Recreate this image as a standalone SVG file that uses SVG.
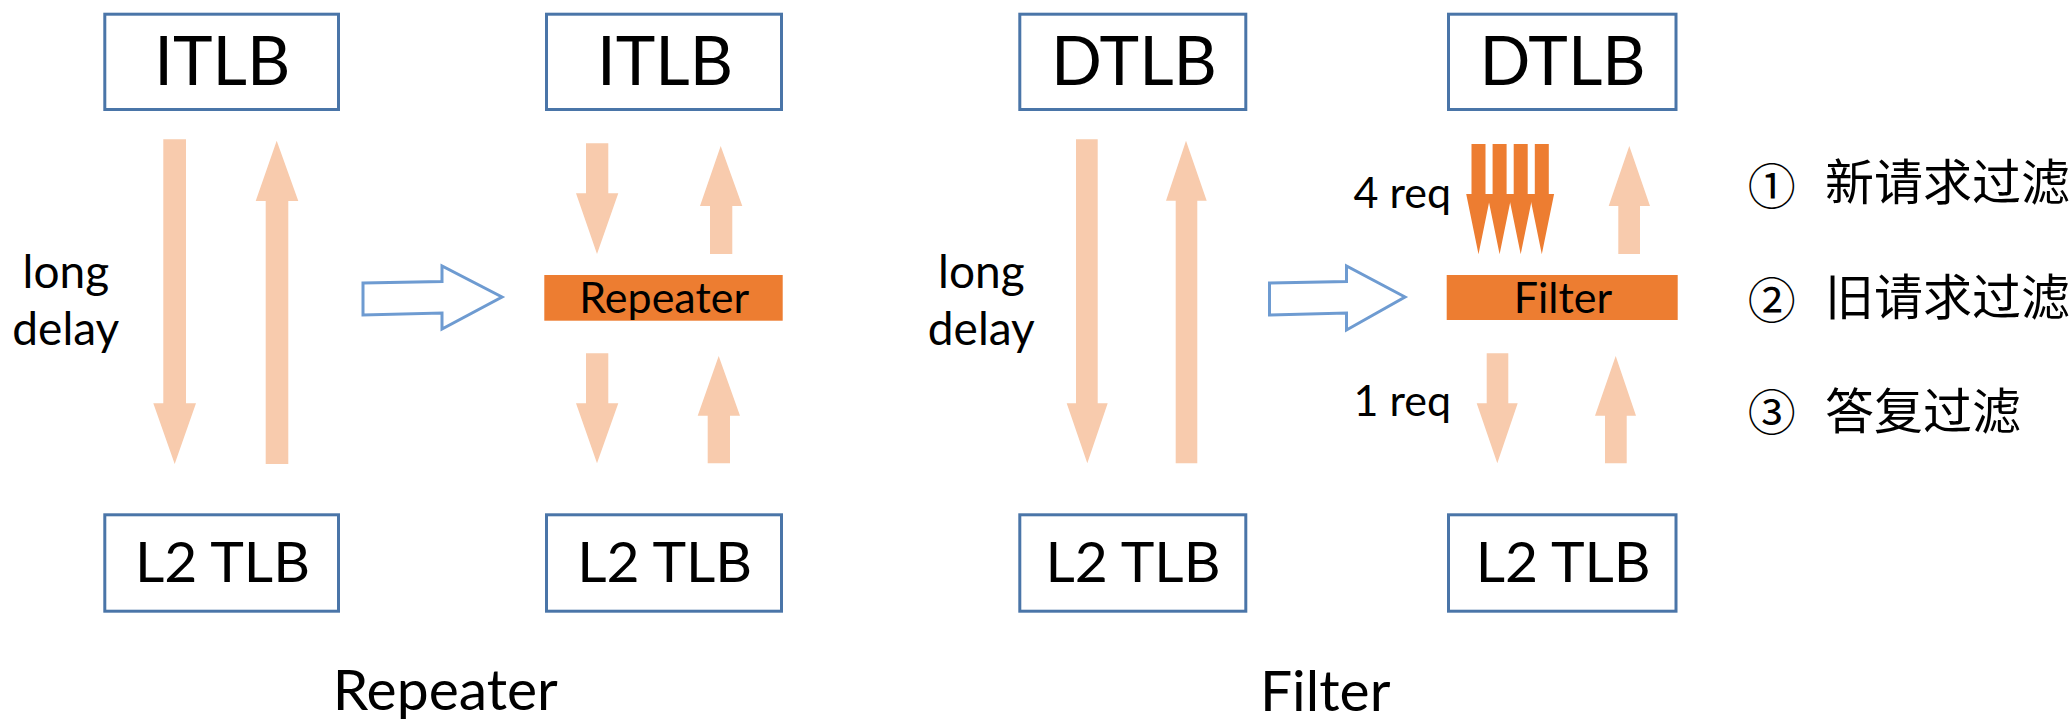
<svg xmlns="http://www.w3.org/2000/svg" width="2071" height="719" viewBox="0 0 2071 719">
<style>
  .box { fill: #ffffff; stroke: #4A75A8; stroke-width: 3; }
  .bar { fill: #ED7D31; }
  .lt { fill: #F8CBAD; }
  .dk { fill: #ED7D31; }
  .hollow { fill: #ffffff; stroke: #6E9BD1; stroke-width: 3; stroke-linejoin: miter; }
  .t { font-family: Lato, "Open Sans", sans-serif; fill: #000000; }
  .big { font-size: 67px; text-anchor: middle; }
  .mid { font-size: 57px; text-anchor: middle; }
  .cap { font-size: 57px; text-anchor: middle; }
  .sm { font-size: 43px; }
  .lbl { font-size: 46px; text-anchor: middle; }
  .cjk { font-family: "Noto Sans CJK SC", sans-serif; fill: #000000; }
  .num { font-size: 48px; text-anchor: middle; }
  .zh { font-size: 49px; }
</style>
<rect width="2071" height="719" fill="#ffffff"/>

<g id="connectors">
  <!-- Repeater section: long arrows -->
  <polygon class="lt" points="163.3,139.3 186,139.3 186,403.3 196,403.3 174.7,464 153.3,403.3 163.3,403.3"/>
  <polygon class="lt" points="276.7,140.7 298.3,201 288.3,201 288.3,464 265.7,464 265.7,201 255.7,201"/>
  <!-- Repeater right column -->
  <polygon class="lt" points="586,143.3 608.3,143.3 608.3,193.3 618.3,193.3 597,254 576,193.3 586,193.3"/>
  <polygon class="lt" points="720.7,146 742.3,206 732.3,206 732.3,254 710,254 710,206 700,206"/>
  <polygon class="lt" points="586,353.3 608.3,353.3 608.3,403.3 618.3,403.3 597,463.3 576,403.3 586,403.3"/>
  <polygon class="lt" points="718.7,356 740,415.7 730,415.7 730,463.3 707.7,463.3 707.7,415.7 697.7,415.7"/>
  <!-- Filter left column -->
  <polygon class="lt" points="1076,139.3 1097.7,139.3 1097.7,403.3 1107.7,403.3 1087.3,463.3 1066.7,403.3 1076,403.3"/>
  <polygon class="lt" points="1186,140.7 1206.7,200.7 1197.3,200.7 1197.3,463.3 1175.7,463.3 1175.7,200.7 1166,200.7"/>
  <!-- Filter right column: 4 requests -->
  <polygon class="dk" points="1471.5,144 1485.5,144 1485.5,194 1490.8,194 1478.5,254.3 1466.2,194 1471.5,194"/>
  <polygon class="dk" points="1492.6,144 1506.6,144 1506.6,194 1511.9,194 1499.6,254.3 1487.3,194 1492.6,194"/>
  <polygon class="dk" points="1513.7,144 1527.7,144 1527.7,194 1533,194 1520.7,254.3 1508.4,194 1513.7,194"/>
  <polygon class="dk" points="1534.8,144 1548.8,144 1548.8,194 1554.1,194 1541.8,254.3 1529.5,194 1534.8,194"/>
  <polygon class="lt" points="1629.3,146 1650,206 1640,206 1640,254 1618.3,254 1618.3,206 1608.7,206"/>
  <polygon class="lt" points="1486.7,353.3 1508.3,353.3 1508.3,403.3 1517.7,403.3 1497.3,463.3 1476.7,403.3 1486.7,403.3"/>
  <polygon class="lt" points="1615.7,356 1636,415.7 1626.7,415.7 1626.7,463.3 1605,463.3 1605,415.7 1595,415.7"/>
  <!-- transition arrows -->
  <polygon class="hollow" points="363,283 442,281.5 442,266 502,297 442,329 442,313 363,315"/>
  <polygon class="hollow" points="1269.5,283 1346.5,281.5 1346.5,266 1405,297 1346.5,330 1346.5,313 1269.5,315"/>
  <!-- connector labels -->
  <text class="t lbl" x="65.8" y="288">long</text>
  <text class="t lbl" x="65.8" y="344.5">delay</text>
  <text class="t lbl" x="981.3" y="288">long</text>
  <text class="t lbl" x="981.3" y="344.5">delay</text>
  <text class="t sm" x="1451" y="208.3" text-anchor="end">4 req</text>
  <text class="t sm" x="1451" y="416" text-anchor="end">1 req</text>
</g>

<g id="itlb-1">
  <rect class="box" x="104.8" y="14.2" width="233.7" height="95.3"/>
  <text class="t big" x="222.3" y="84.5">ITLB</text>
</g>
<g id="l2tlb-1">
  <rect class="box" x="104.8" y="514.8" width="233.7" height="96.4"/>
  <text class="t mid" x="222.5" y="582">L2 TLB</text>
</g>
<g id="itlb-2">
  <rect class="box" x="546.5" y="14.2" width="235" height="95.3"/>
  <text class="t big" x="665" y="84.5">ITLB</text>
</g>
<g id="repeater">
  <rect class="bar" x="544.3" y="275" width="238.4" height="45.7"/>
  <text class="t sm" x="664.2" y="312.7" text-anchor="middle">Repeater</text>
</g>
<g id="l2tlb-2">
  <rect class="box" x="546.5" y="514.8" width="235" height="96.4"/>
  <text class="t mid" x="664.7" y="582">L2 TLB</text>
</g>
<g id="dtlb-1">
  <rect class="box" x="1019.8" y="14.2" width="226" height="95.3"/>
  <text class="t big" x="1133.9" y="84.5">DTLB</text>
</g>
<g id="l2tlb-3">
  <rect class="box" x="1019.8" y="514.8" width="226" height="96.4"/>
  <text class="t mid" x="1133" y="582">L2 TLB</text>
</g>
<g id="dtlb-2">
  <rect class="box" x="1448.5" y="14.2" width="227.5" height="95.3"/>
  <text class="t big" x="1562.6" y="84.5">DTLB</text>
</g>
<g id="filter">
  <rect class="bar" x="1446.7" y="275" width="231" height="45"/>
  <text class="t sm" x="1563" y="312.7" text-anchor="middle">Filter</text>
</g>
<g id="l2tlb-4">
  <rect class="box" x="1448.5" y="514.8" width="227.5" height="96.4"/>
  <text class="t mid" x="1563.2" y="582">L2 TLB</text>
</g>

<g id="captions">
  <text class="t cap" x="445.3" y="709.5">Repeater</text>
  <text class="t cap" x="1325.2" y="710.5">Filter</text>
</g>

<g id="legend">
  <text class="cjk num" x="1771.7" y="203.5">①</text>
  <text class="cjk zh" x="1825" y="200">新请求过滤</text>
  <text class="cjk num" x="1771.7" y="317.5">②</text>
  <text class="cjk zh" x="1825" y="314.5">旧请求过滤</text>
  <text class="cjk num" x="1771.7" y="429.5">③</text>
  <text class="cjk zh" x="1825" y="429">答复过滤</text>
</g>
</svg>
